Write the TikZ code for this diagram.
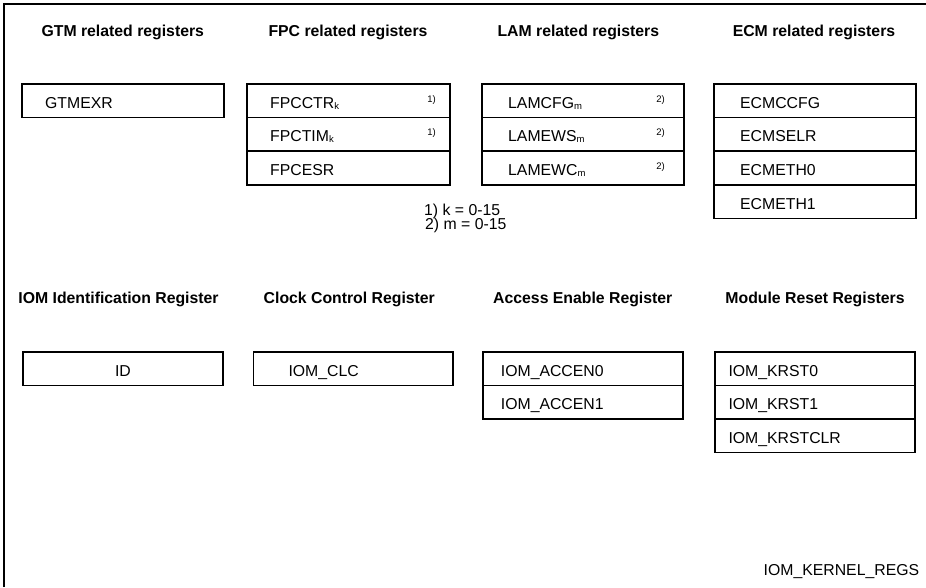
\documentclass[tikz,border=0pt]{standalone}
\usepackage{fontspec}
\setmainfont{Liberation Sans}
\begin{document}
\begin{tikzpicture}[x=1pt,y=-1pt,
  reg/.style={draw, line width=1.6pt, rectangle, minimum height=33.6pt, inner sep=0pt, outer sep=0pt, anchor=north west},
  lbl/.style={font=\fontsize{15.8}{18}\selectfont, anchor=base west, inner sep=0pt},
  ttl/.style={font=\bfseries\fontsize{15.8}{18}\selectfont, anchor=base, inner sep=0pt},
  fnote/.style={font=\fontsize{9.5}{10}\selectfont, anchor=base east, inner sep=0pt},
  frame/.style={line width=1.4pt}]
\useasboundingbox (0,0) rectangle (926,587);
\newcommand{\subk}[1]{{\fontsize{9.5}{10}\selectfont\raisebox{-1pt}{#1}}}
% frame
\coordinate (f1) at (4,587);
\coordinate (f2) at (4,4);
\coordinate (f3) at (926,4);
\draw[frame] (f1) -- (f2) -- (f3);
% titles row 1
\node[ttl] (t1) at (122.8,36) {GTM related registers};
\node[ttl] (t2) at (348,36) {FPC related registers};
\node[ttl] (t3) at (578.3,36) {LAM related registers};
\node[ttl] (t4) at (814,36) {ECM related registers};
% titles row 2
\node[ttl] (t5) at (118.5,303) {IOM Identification Register};
\node[ttl] (t6) at (349.3,303) {Clock Control Register};
\node[ttl] (t7) at (582.8,303) {Access Enable Register};
\node[ttl] (t8) at (815,303) {Module Reset Registers};
% GTM
\node[reg, minimum width=202pt] (gtm1) at (22,84) {};
\node[lbl] (gtm1t) at ([shift={(23pt,-7.5pt)}]gtm1.west) {GTMEXR};
% FPC
\node[reg, minimum width=203pt] (fpc1) at (247,84) {};
\node[reg, minimum width=203pt] (fpc2) at (fpc1.south west) {};
\node[reg, minimum width=203pt] (fpc3) at (fpc2.south west) {};
\node[lbl] (fpc1t) at ([shift={(23pt,-7.5pt)}]fpc1.west) {FPCCTR\subk{k}};
\node[lbl] (fpc2t) at ([shift={(23pt,-7.5pt)}]fpc2.west) {FPCTIM\subk{k}};
\node[lbl] (fpc3t) at ([shift={(23pt,-7.5pt)}]fpc3.west) {FPCESR};
\node[fnote] (fpc1n) at ([shift={(-14pt,-1.2pt)}]fpc1.east) {1)};
\node[fnote] (fpc2n) at ([shift={(-14pt,-1.2pt)}]fpc2.east) {1)};
% LAM
\node[reg, minimum width=202pt] (lam1) at (482,84) {};
\node[reg, minimum width=202pt] (lam2) at (lam1.south west) {};
\node[reg, minimum width=202pt] (lam3) at (lam2.south west) {};
\node[lbl] (lam1t) at ([shift={(26pt,-7.5pt)}]lam1.west) {LAMCFG\subk{m}};
\node[lbl] (lam2t) at ([shift={(26pt,-7.5pt)}]lam2.west) {LAMEWS\subk{m}};
\node[lbl] (lam3t) at ([shift={(26pt,-7.5pt)}]lam3.west) {LAMEWC\subk{m}};
\node[fnote] (lam1n) at ([shift={(-19pt,-1.2pt)}]lam1.east) {2)};
\node[fnote] (lam2n) at ([shift={(-19pt,-1.2pt)}]lam2.east) {2)};
\node[fnote] (lam3n) at ([shift={(-19pt,-1.2pt)}]lam3.east) {2)};
% ECM
\node[reg, minimum width=202pt] (ecm1) at (714,84) {};
\node[reg, minimum width=202pt] (ecm2) at (ecm1.south west) {};
\node[reg, minimum width=202pt] (ecm3) at (ecm2.south west) {};
\node[reg, minimum width=202pt] (ecm4) at (ecm3.south west) {};
\node[lbl] (ecm1t) at ([shift={(26pt,-7.5pt)}]ecm1.west) {ECMCCFG};
\node[lbl] (ecm2t) at ([shift={(26pt,-7.5pt)}]ecm2.west) {ECMSELR};
\node[lbl] (ecm3t) at ([shift={(26pt,-7.5pt)}]ecm3.west) {ECMETH0};
\node[lbl] (ecm4t) at ([shift={(26pt,-7.5pt)}]ecm4.west) {ECMETH1};
% footnotes
\node[lbl] (n1) at (424,215) {1) k = 0-15};
\node[lbl] (n2) at (425,229) {2) m = 0-15};
% ID
\node[reg, minimum width=200.5pt] (id1) at (22.7,351.7) {};
\node[lbl, anchor=base] (id1t) at ([shift={(0pt,-7.5pt)}]id1.center) {ID};
% CLC
\node[reg, minimum width=199.5pt] (clc1) at (253.3,351.7) {};
\node[lbl] (clc1t) at ([shift={(35pt,-7.5pt)}]clc1.west) {IOM\_CLC};
% ACCEN
\node[reg, minimum width=200pt] (acc1) at (482.7,351.7) {};
\node[reg, minimum width=200pt] (acc2) at (acc1.south west) {};
\node[lbl] (acc1t) at ([shift={(18pt,-7.5pt)}]acc1.west) {IOM\_ACCEN0};
\node[lbl] (acc2t) at ([shift={(18pt,-7.5pt)}]acc2.west) {IOM\_ACCEN1};
% KRST
\node[reg, minimum width=200pt] (kr1) at (715,351.7) {};
\node[reg, minimum width=200pt] (kr2) at (kr1.south west) {};
\node[reg, minimum width=200pt] (kr3) at (kr2.south west) {};
\node[lbl] (kr1t) at ([shift={(13.3pt,-7.5pt)}]kr1.west) {IOM\_KRST0};
\node[lbl] (kr2t) at ([shift={(13.3pt,-7.5pt)}]kr2.west) {IOM\_KRST1};
\node[lbl] (kr3t) at ([shift={(13.3pt,-7.5pt)}]kr3.west) {IOM\_KRSTCLR};
% figure id
\node[lbl] (figid) at (763.5,575.5) {IOM\_KERNEL\_REGS};
\end{tikzpicture}
\end{document}
